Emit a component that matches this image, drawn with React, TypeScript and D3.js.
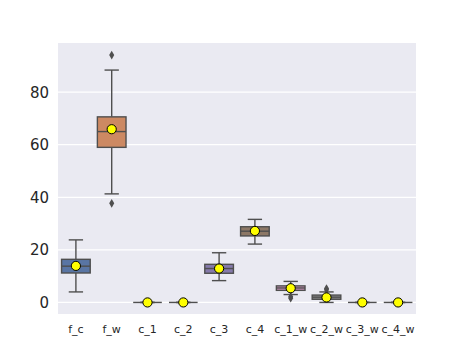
import React from "react";
import * as d3 from "d3";

// categories and box statistics
const categories = ["f_c", "f_w", "c_1", "c_2", "c_3", "c_4", "c_1_w", "c_2_w", "c_3_w", "c_4_w"];
const q1 = [11.2, 59.0, 0, 0, 11.1, 25.3, 4.6, 1.2, 0, 0];
const medians = [13.8, 65.0, 0, 0, 12.9, 27.1, 5.5, 2.0, 0, 0];
const q3 = [16.4, 70.6, 0, 0, 14.5, 28.8, 6.3, 2.8, 0, 0];
const whiskerLow = [4.0, 41.3, 0, 0, 8.3, 22.2, 3.0, 0, 0, 0];
const whiskerHigh = [23.8, 88.4, 0, 0, 18.9, 31.6, 8.0, 4.0, 0, 0];
const means = [13.9, 65.9, 0, 0, 12.9, 27.2, 5.4, 1.9, 0, 0];
const outliers: number[][] = [[], [94.1, 37.7], [], [], [], [], [2.2, 1.6], [4.8, 5.3], [], []];
const yTicks = [0, 20, 40, 60, 80];

const colors = ["#5975a4", "#cc8963", "#5f9e6e", "#b55d60", "#857aab", "#8d7866", "#d095bf", "#8c8c8c", "#c1b37f", "#71aec0"];

const width = 463;
const height = 354;
const margin = { left: 58, right: 47, top: 43, bottom: 40 };
const lineColor = "#4f4f4f";

const App = () => {
  const x = d3
    .scaleBand()
    .domain(categories)
    .range([margin.left, width - margin.right])
    .paddingInner(0)
    .paddingOuter(0);
  const y = d3
    .scaleLinear()
    .domain([-4.4, 98.7])
    .range([height - margin.bottom, margin.top]);

  const bw = x.bandwidth();
  const boxW = bw * 0.8;
  const capW = boxW / 2;
  const diamond = d3.symbol().type(d3.symbolDiamond).size(22);

  return (
    <svg width={width} height={height} style={{ position: "absolute", left: 0, top: 0 }}>
      <rect x={0} y={0} width={width} height={height} fill="#ffffff" />
      <rect
        x={margin.left}
        y={margin.top}
        width={width - margin.left - margin.right}
        height={height - margin.top - margin.bottom}
        fill="#eaeaf2"
      />
      {yTicks.map(t => (
        <g key={t}>
          <line x1={margin.left} x2={width - margin.right} y1={y(t)} y2={y(t)} stroke="#ffffff" strokeWidth={1.2} />
          <text
            x={49}
            y={y(t)}
            dy="0.36em"
            textAnchor="end"
            fontFamily="DejaVu Sans"
            fontSize={15}
            fill="#262626"
          >
            {t}
          </text>
        </g>
      ))}
      {categories.map((c, i) => {
        const cx = (x(c) as number) + bw / 2;
        return (
          <g key={c}>
            <line x1={cx} x2={cx} y1={y(q3[i])} y2={y(whiskerHigh[i])} stroke={lineColor} strokeWidth={1.4} />
            <line x1={cx} x2={cx} y1={y(q1[i])} y2={y(whiskerLow[i])} stroke={lineColor} strokeWidth={1.4} />
            <line
              x1={cx - capW / 2}
              x2={cx + capW / 2}
              y1={y(whiskerHigh[i])}
              y2={y(whiskerHigh[i])}
              stroke={lineColor}
              strokeWidth={1.4}
            />
            <line
              x1={cx - capW / 2}
              x2={cx + capW / 2}
              y1={y(whiskerLow[i])}
              y2={y(whiskerLow[i])}
              stroke={lineColor}
              strokeWidth={1.4}
            />
            <rect
              x={cx - boxW / 2}
              y={y(q3[i])}
              width={boxW}
              height={Math.max(0, y(q1[i]) - y(q3[i]))}
              fill={colors[i]}
              stroke={lineColor}
              strokeWidth={1.4}
            />
            <line
              x1={cx - boxW / 2}
              x2={cx + boxW / 2}
              y1={y(medians[i])}
              y2={y(medians[i])}
              stroke={lineColor}
              strokeWidth={1.4}
            />
            {outliers[i].map((o, j) => (
              <path key={j} d={diamond() as string} transform={`translate(${cx},${y(o)})`} fill={lineColor} />
            ))}
            <circle cx={cx} cy={y(means[i])} r={4.6} fill="#ffff00" stroke="#000000" strokeWidth={1} />
            <text
              x={cx}
              y={333}
              textAnchor="middle"
              fontFamily="DejaVu Sans"
              fontSize={11}
              fill="#262626"
            >
              {c}
            </text>
          </g>
        );
      })}
    </svg>
  );
};

export default App;
